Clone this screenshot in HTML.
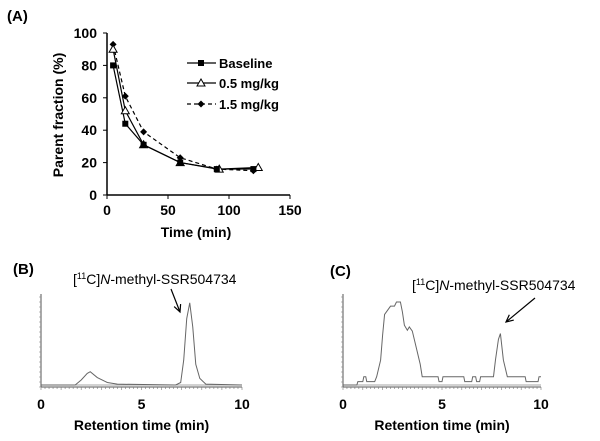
<!DOCTYPE html>
<html><head><meta charset="utf-8"><style>
body{margin:0;background:#fff;width:600px;height:441px;overflow:hidden}
svg{display:block;font-family:"Liberation Sans",Arial,sans-serif}
</style></head><body>
<svg id="fig" width="600" height="441" viewBox="0 0 600 441">
<text x="7" y="21" font-size="15" font-weight="bold">(A)</text>
<text x="13" y="274" font-size="15" font-weight="bold">(B)</text>
<text x="330" y="276" font-size="15" font-weight="bold">(C)</text>
<g id="pa"></g>
<g id="pb"></g>
<g id="pc"></g>
</svg>
<script>
const times=[5,15,30,60,90,120];
const baseline=[80,44,31,20,16,16];
const times05=[5,15,30,60,92,124];
const dose05=[90,52,31,20,16,17];
const dose15=[93,61,39,23,16,15];
const yTicks=[0,20,40,60,80,100];
const xTicks=[0,50,100,150];
const rtTicks=[0,5,10];
const chromBt=[0,1.7,2.0,2.3,2.45,2.8,3.3,3.8,6.7,6.95,7.1,7.25,7.4,7.55,7.7,7.9,8.2,10];
const chromBv=[0,0,6,14,16,9,3,1,0,3,30,80,99,70,25,8,1,0];
const chromCt=[0,0.7,0.75,1,1.05,1.15,1.2,1.6,1.7,1.9,2.0,2.1,2.25,2.4,2.6,2.7,2.9,3.0,3.1,3.25,3.35,3.5,3.7,3.9,4.0,4.8,4.85,5.0,5.05,6.1,6.15,6.5,6.55,6.7,6.75,6.9,6.95,7.1,7.15,7.6,7.7,7.85,7.95,8.1,8.3,9.2,9.25,9.85,9.9,10];
const chromCv=[0,0,4,4,10,10,4,4,10,30,60,85,90,95,95,100,100,88,72,66,70,65,45,25,10,10,4,4,10,10,4,4,10,10,4,4,10,10,10,10,30,55,62,30,10,10,4,4,10,10];
const NS="http://www.w3.org/2000/svg";
function mk(p,tag,a){const e=document.createElementNS(NS,tag);for(const k in a)e.setAttribute(k,a[k]);p.appendChild(e);return e;}
const pa=document.getElementById('pa');
const ax=v=>107+v*(290-107)/150, ay=v=>195-v*(195-33)/100;
let e=mk(pa,'line',{x1:107,y1:33,x2:107,y2:195,stroke:'#000','stroke-width':1.5});

e=mk(pa,'line',{x1:107,y1:195,x2:290,y2:195,stroke:'#000','stroke-width':1.5});

yTicks.forEach(v=>{mk(pa,'line',{x1:103,y1:ay(v),x2:107,y2:ay(v),stroke:'#000'});
 e=mk(pa,'text',{x:97,y:ay(v)+5,'font-size':14,'font-weight':'bold','text-anchor':'end'});e.textContent=v;
 });
xTicks.forEach(v=>{mk(pa,'line',{x1:ax(v),y1:195,x2:ax(v),y2:199,stroke:'#000'});
 e=mk(pa,'text',{x:ax(v),y:215,'font-size':14,'font-weight':'bold','text-anchor':'middle'});e.textContent=v;
 });
e=mk(pa,'text',{x:196,y:237,'font-size':14,'font-weight':'bold','text-anchor':'middle'});e.textContent='Time (min)';

e=mk(pa,'text',{x:0,y:0,'font-size':14,'font-weight':'bold','text-anchor':'middle',transform:'translate(63,115) rotate(-90)'});e.textContent='Parent fraction (%)';

function series(xs,ys,dash,name){e=mk(pa,'polyline',{points:xs.map((x,i)=>ax(x)+','+ay(ys[i])).join(' '),fill:'none',stroke:'#000','stroke-width':1.2,'stroke-dasharray':dash});
 }
series(times,dose15,'4,3','dose-1-5');series(times05,dose05,'','dose-0-5');series(times,baseline,'','baseline');
function sq(g,x,y){return mk(g,'rect',{x:x-3,y:y-3,width:6,height:6,fill:'#000'});}
function tri(g,x,y){return mk(g,'polygon',{points:`${x},${y-4} ${x-4},${y+3} ${x+4},${y+3}`,fill:'#fff',stroke:'#000'});}
function dia(g,x,y){return mk(g,'polygon',{points:`${x},${y-3.5} ${x+3.5},${y} ${x},${y+3.5} ${x-3.5},${y}`,fill:'#000'});}
times.forEach((t,i)=>{e=dia(pa,ax(t),ay(dose15[i]));});
times05.forEach((t,i)=>{e=tri(pa,ax(t),ay(dose05[i]));});
times.forEach((t,i)=>{e=sq(pa,ax(t),ay(baseline[i]));});
const lg=[['Baseline','',sq,63],['0.5 mg/kg','',tri,83],['1.5 mg/kg','4,3',dia,104]];
lg.forEach(l=>{const g=mk(pa,'g',{});
 mk(g,'line',{x1:187,y1:l[3],x2:216,y2:l[3],stroke:'#000','stroke-width':1.2,'stroke-dasharray':l[1]});
 l[2](g,201,l[3]);const t=mk(g,'text',{x:219,y:l[3]+5,'font-size':13,'font-weight':'bold'});t.textContent=l[0];});
function chrom(id,x0,x1,by,top,ts,vs,lx,ly,ar){
 const g=document.getElementById(id);const cx=v=>x0+v*(x1-x0)/10, cy=v=>by-2-v*(by-2-top)/100;
 mk(g,'line',{x1:x0,y1:top-8,x2:x0,y2:by,stroke:'#555','stroke-width':1});
 mk(g,'line',{x1:x0,y1:by,x2:x1,y2:by,stroke:'#555','stroke-width':1});
 for(let i=0;i<=50;i++)mk(g,'line',{x1:x0+i*(x1-x0)/50,y1:by,x2:x0+i*(x1-x0)/50,y2:by+(i%5?2:3),stroke:'#777','stroke-width':0.6});
 for(let i=0;i<=18;i++)mk(g,'line',{x1:x0-2,y1:by-i*5,x2:x0,y2:by-i*5,stroke:'#888','stroke-width':0.6});
 mk(g,'line',{x1:x0,y1:by-2,x2:x1,y2:by-2,stroke:'#888','stroke-width':0.8});
 e=mk(g,'polyline',{points:ts.map((t,i)=>cx(t)+','+cy(vs[i])).join(' '),fill:'none',stroke:'#666','stroke-width':1});
 
 rtTicks.forEach(v=>{e=mk(g,'text',{x:cx(v),y:409,'font-size':14,'font-weight':'bold','text-anchor':'middle'});e.textContent=v;
  });
 e=mk(g,'text',{x:(x0+x1)/2,y:430,'font-size':14,'font-weight':'bold','text-anchor':'middle'});e.textContent='Retention time (min)';
 
 e=mk(g,'text',{x:lx,y:ly,'font-size':14});e.innerHTML='[<tspan font-size="9" dy="-5">11</tspan><tspan dy="5">C]</tspan><tspan font-style="italic">N</tspan>-methyl-SSR504734';
 
 e=mk(g,'g',{});
 mk(e,'line',{x1:ar[0],y1:ar[1],x2:ar[2],y2:ar[3],stroke:'#000','stroke-width':1.2});
 const a=Math.atan2(ar[3]-ar[1],ar[2]-ar[0]);
 mk(e,'polyline',{points:`${ar[2]-8*Math.cos(a-0.45)},${ar[3]-8*Math.sin(a-0.45)} ${ar[2]},${ar[3]} ${ar[2]-8*Math.cos(a+0.45)},${ar[3]-8*Math.sin(a+0.45)}`,fill:'none',stroke:'#000','stroke-width':1.2});
}
chrom('pb',41,242,387,302,chromBt,chromBv,73,284,[171,289,180,312]);
chrom('pc',343,541,387,302,chromCt,chromCv,412,290,[535,298,506,322]);
</script>
</body></html>
